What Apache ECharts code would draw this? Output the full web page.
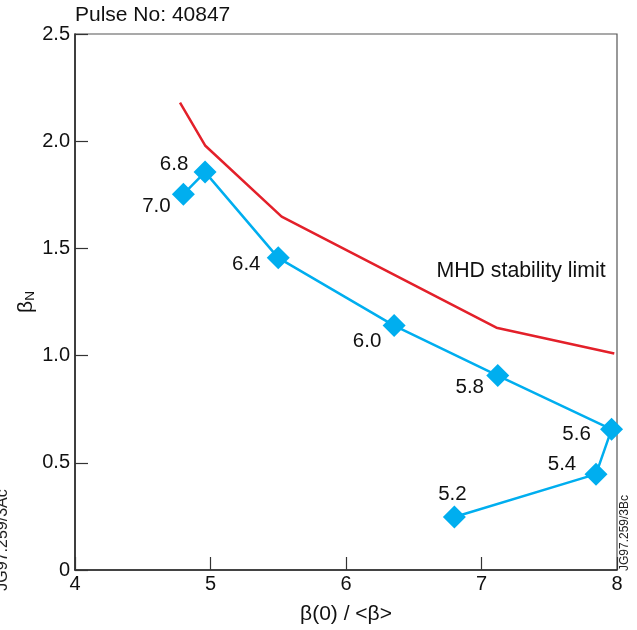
<!DOCTYPE html>
<html>
<head>
<meta charset="utf-8">
<script src="https://cdn.jsdelivr.net/npm/echarts@6/dist/echarts.min.js"></script>
<style>
  html, body { margin: 0; padding: 0; background: #fff; }
  #chart { width: 637px; height: 630px; }
</style>
</head>
<body>
<div id="chart"></div>
<script>
// Pulse 40847: normalised beta versus peaking factor, with time labels (s)
const pulseTimes = ['5.2', '5.4', '5.6', '5.8', '6.0', '6.4', '6.8', '7.0'];
const peakingFactor = [6.80, 7.845, 7.96, 7.12, 6.355, 5.50, 4.96, 4.80];
const betaN = [0.247, 0.447, 0.656, 0.907, 1.140, 1.456, 1.856, 1.753];

// MHD stability limit curve
const limitPeaking = [4.775, 4.96, 5.525, 7.11, 7.98];
const limitBetaN = [2.18, 1.98, 1.648, 1.13, 1.01];

const xTicks = [4, 5, 6, 7, 8];
const yTickLabels = ['0', '0.5', '1.0', '1.5', '2.0', '2.5'];

// label offsets (px) next to each marker, same order as pulseTimes
const labelOffsets = [[-2, -23], [-34, -10], [-35, 5], [-28, 12], [-27, 16], [-32, 7], [-31, -8], [-27, 12]];

const FONT = 'Liberation Sans, Arial, sans-serif';
const BLUE = '#00AEEF';
const RED = '#E3202A';

const chart = echarts.init(document.getElementById('chart'), null, { renderer: 'canvas' });

const blueData = peakingFactor.map((x, i) => ({
  value: [x, betaN[i]],
  label: {
    show: true,
    formatter: pulseTimes[i],
    position: 'inside',
    offset: labelOffsets[i],
    color: '#111',
    fontSize: 20.5,
    fontFamily: FONT
  }
}));

chart.setOption({
  animation: false,
  backgroundColor: '#fff',
  grid: {
    left: 75, right: 20, top: 34, bottom: 59,
    show: true, borderColor: '#555', borderWidth: 1.2, backgroundColor: 'transparent'
  },
  xAxis: {
    type: 'value',
    min: xTicks[0], max: xTicks[xTicks.length - 1], interval: 1,
    name: 'β(0) / <β>',
    nameLocation: 'middle',
    nameGap: 34,
    nameMoveOverlap: false,
    nameTextStyle: { color: '#111', fontSize: 21, fontFamily: FONT },
    axisLine: { show: true, lineStyle: { color: '#222', width: 1.5 } },
    axisTick: { show: true, inside: true, length: 13, lineStyle: { color: '#333', width: 1.2 } },
    axisLabel: { color: '#111', fontSize: 20, fontFamily: FONT, margin: 4 },
    splitLine: { show: false }
  },
  yAxis: {
    type: 'value',
    min: 0, max: 2.5, interval: 0.5,
    name: '{b|β}{s|N}',
    nameLocation: 'middle',
    nameRotate: 90,
    nameGap: 38,
    nameMoveOverlap: false,
    nameTextStyle: {
      color: '#111', fontFamily: FONT,
      rich: {
        b: { fontSize: 21, fontFamily: FONT, color: '#111' },
        s: { fontSize: 13.5, fontFamily: FONT, color: '#111', verticalAlign: 'bottom', padding: [8, 0, 0, 0] }
      }
    },
    axisLine: { show: true, lineStyle: { color: '#222', width: 1.5 } },
    axisTick: { show: true, inside: true, length: 13, lineStyle: { color: '#333', width: 1.2 } },
    axisLabel: {
      color: '#111', fontSize: 20, fontFamily: FONT, margin: 5,
      formatter: v => yTickLabels[Math.round(v / 0.5)]
    },
    splitLine: { show: false }
  },
  series: [
    {
      name: 'MHD stability limit',
      type: 'line',
      data: limitPeaking.map((x, i) => [x, limitBetaN[i]]),
      showSymbol: false,
      symbol: 'none',
      lineStyle: { color: RED, width: 2.5 },
      z: 2
    },
    {
      name: 'Pulse 40847',
      type: 'line',
      data: blueData,
      symbol: 'diamond',
      symbolSize: 23,
      itemStyle: { color: BLUE },
      lineStyle: { color: BLUE, width: 2.5 },
      z: 3
    }
  ],
  graphic: [
    {
      type: 'text', left: 75, top: 5,
      style: { text: 'Pulse No: 40847', fill: '#111', font: '21px ' + FONT }
    },
    {
      type: 'text', x: 521, y: 271,
      style: { text: 'MHD stability limit', fill: '#111', font: '21.3px ' + FONT, align: 'center', verticalAlign: 'middle' }
    },
    {
      type: 'text', x: 625, y: 533, rotation: Math.PI / 2,
      style: { text: 'JG97.259/3Bc', fill: '#222', font: '12px ' + FONT, align: 'center', verticalAlign: 'middle' }
    },
    {
      type: 'text', x: 3, y: 540, rotation: Math.PI / 2,
      style: { text: 'JG97.259/3Ac', fill: '#222', font: '16px ' + FONT, align: 'center', verticalAlign: 'middle' }
    }
  ]
});
</script>
</body>
</html>
